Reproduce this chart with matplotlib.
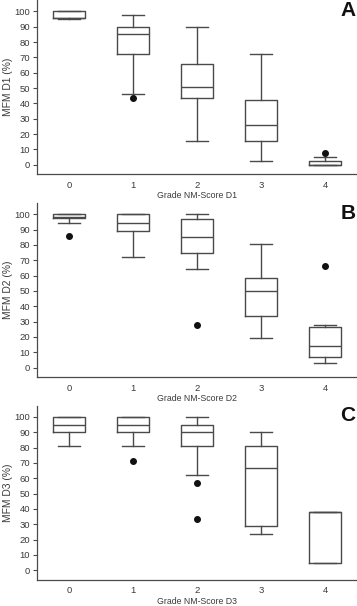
import matplotlib
matplotlib.use('Agg')
import matplotlib.pyplot as plt

plt.rcParams['font.family'] = ['Liberation Sans', 'DejaVu Sans']

GRADES = [0, 1, 2, 3, 4]
PANELS = ['A', 'B', 'C']
YLABELS = ['MFM D1 (%)', 'MFM D2 (%)', 'MFM D3 (%)']
XLABELS = ['Grade NM-Score D1', 'Grade NM-Score D2', 'Grade NM-Score D3']

# per grade: whisker low, Q1, median, Q3, whisker high
D1_LO = [95, 46, 15.5, 2.5, 0]
D1_Q1 = [96, 72, 43.5, 15.5, 0]
D1_MED = [96, 85, 51, 26, 0]
D1_Q3 = [100, 90, 65.5, 42.5, 2.5]
D1_HI = [100, 97.5, 90, 72, 5]
D1_FLIERS = [[], [43.5], [], [], [7.5]]

D2_LO = [94.5, 72, 64, 19.5, 3]
D2_Q1 = [97.5, 89, 75, 33.5, 7]
D2_MED = [98, 94.5, 85, 50, 14]
D2_Q3 = [100, 100, 97, 58.5, 26.5]
D2_HI = [100, 100, 100, 80.5, 27.5]
D2_FLIERS = [[86], [], [28], [], [66.5]]

D3_LO = [81, 81, 62, 24, 5]
D3_Q1 = [90.5, 90.5, 81, 29, 5]
D3_MED = [95, 95, 90.5, 66.5, 38]
D3_Q3 = [100, 100, 95, 81, 38]
D3_HI = [100, 100, 100, 90.5, 38]
D3_FLIERS = [[], [71.5], [57, 33.5], [], []]

DATA = [(D1_LO, D1_Q1, D1_MED, D1_Q3, D1_HI, D1_FLIERS),
        (D2_LO, D2_Q1, D2_MED, D2_Q3, D2_HI, D2_FLIERS),
        (D3_LO, D3_Q1, D3_MED, D3_Q3, D3_HI, D3_FLIERS)]

LINE = '#4a4a4a'
TXT = '#3a3a3a'

fig = plt.figure(figsize=(3.57, 6.06), dpi=100)
tops = [0, 202.8, 405.5]
H = 174.0
for i, (lo, q1, med, q3, hi, fl) in enumerate(DATA):
    top = tops[i]
    ax = fig.add_axes([37 / 357, 1 - (top + H) / 606, 1 - 37 / 357, H / 606])
    stats = [dict(whislo=a, q1=b, med=c, q3=d, whishi=e, fliers=f)
             for a, b, c, d, e, f in zip(lo, q1, med, q3, hi, fl)]
    ax.bxp(stats, positions=GRADES, widths=0.5, capwidths=0.34,
           boxprops=dict(color=LINE, lw=1.0),
           medianprops=dict(color=LINE, lw=1.0),
           whiskerprops=dict(color=LINE, lw=1.0),
           capprops=dict(color=LINE, lw=1.0),
           flierprops=dict(marker='o', markerfacecolor='#111111', markeredgecolor='#111111',
                           markersize=4.0))
    ax.set_xlim(-0.5, 4.5)
    ax.set_ylim(-6, 107.5)
    ax.set_yticks(range(0, 101, 10))
    ax.set_xticks(GRADES)
    ax.set_xticklabels([str(g) for g in GRADES])
    for s in ['top', 'right']:
        ax.spines[s].set_visible(False)
    for s in ['left', 'bottom']:
        ax.spines[s].set_color(LINE)
        ax.spines[s].set_linewidth(0.9)
    ax.tick_params(axis='y', length=3, width=0.8, color=LINE, labelsize=6.8, labelcolor=TXT, pad=2)
    ax.tick_params(axis='x', length=0, labelsize=6.8, labelcolor=TXT, pad=5)
    ax.set_ylabel(YLABELS[i], fontsize=7.4, color=TXT)
    ax.yaxis.set_label_coords(-0.075, 0.5)
    ax.set_xlabel(XLABELS[i], fontsize=6.3, color=TXT, labelpad=1)
    ax.text(0.995, 0.995, PANELS[i], transform=ax.transAxes, ha='right', va='top',
            fontsize=15, fontweight='bold', color='#111111')

fig.savefig('out.png', dpi=100)
